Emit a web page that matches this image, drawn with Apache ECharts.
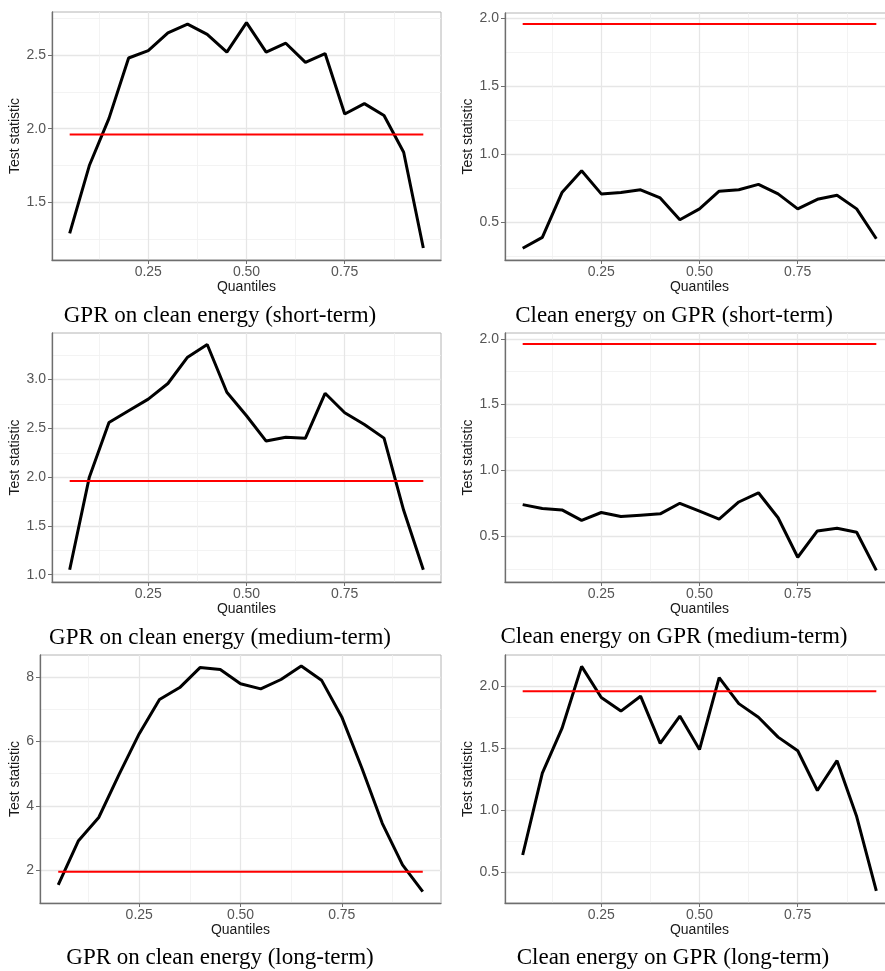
<!DOCTYPE html>
<html><head><meta charset="utf-8">
<script src="https://cdn.jsdelivr.net/npm/echarts@6/dist/echarts.min.js"></script>
<style>html,body{margin:0;padding:0;background:#fff}#c{width:885px;height:971px}</style>
</head><body><div id="c"></div>
<script>
// ---- data ----
const quantiles = [0.05,0.10,0.15,0.20,0.25,0.30,0.35,0.40,0.45,0.50,0.55,0.60,0.65,0.70,0.75,0.80,0.85,0.90,0.95];
const gprOnCleanShort  = [1.29,1.75,2.07,2.48,2.53,2.65,2.71,2.64,2.52,2.72,2.52,2.58,2.45,2.51,2.10,2.17,2.09,1.84,1.19];
const cleanOnGprShort  = [0.31,0.39,0.72,0.88,0.71,0.72,0.74,0.68,0.52,0.60,0.73,0.74,0.78,0.71,0.60,0.67,0.70,0.60,0.38];
const gprOnCleanMedium = [1.05,2.00,2.56,2.68,2.80,2.96,3.23,3.36,2.87,2.63,2.37,2.41,2.40,2.86,2.66,2.54,2.40,1.66,1.05];
const cleanOnGprMedium = [0.74,0.71,0.70,0.62,0.68,0.65,0.66,0.67,0.75,0.69,0.63,0.76,0.83,0.64,0.34,0.54,0.56,0.53,0.24];
const gprOnCleanLong   = [1.55,2.92,3.64,4.97,6.24,7.30,7.67,8.29,8.23,7.79,7.63,7.92,8.34,7.90,6.76,5.16,3.46,2.17,1.34];
const cleanOnGprLong   = [0.64,1.30,1.66,2.16,1.91,1.80,1.92,1.54,1.76,1.49,2.07,1.86,1.75,1.59,1.48,1.16,1.40,0.95,0.35];
const criticalValue = 1.96;

const xMajorTicks = [0.25,0.50,0.75];
const xMinorTicks = [0.125,0.375,0.625,0.875];
const xRange = [0.005,0.995];

const yTicksShortL  = {major:[1.5,2.0,2.5], minor:[1.25,1.75,2.25,2.75], range:[1.109,2.792]};
const yTicksShortR  = {major:[0.5,1.0,1.5,2.0], minor:[0.25,0.75,1.25,1.75], range:[0.224,2.040]};
const yTicksMediumL = {major:[1.0,1.5,2.0,2.5,3.0], minor:[1.25,1.75,2.25,2.75,3.25], range:[0.925,3.478]};
const yTicksMediumR = {major:[0.5,1.0,1.5,2.0], minor:[0.25,0.75,1.25,1.75], range:[0.152,2.044]};
const yTicksLongL   = {major:[2,4,6,8], minor:[1,3,5,7], range:[0.988,8.68]};
const yTicksLongR   = {major:[0.5,1.0,1.5,2.0], minor:[0.75,1.25,1.75], range:[0.253,2.252]};

const captions = [
  'GPR on clean energy (short-term)', 'Clean energy on GPR (short-term)',
  'GPR on clean energy (medium-term)', 'Clean energy on GPR (medium-term)',
  'GPR on clean energy (long-term)', 'Clean energy on GPR (long-term)'
];
const seriesValues = [gprOnCleanShort, cleanOnGprShort, gprOnCleanMedium, cleanOnGprMedium, gprOnCleanLong, cleanOnGprLong];
const yTickSets = [yTicksShortL, yTicksShortR, yTicksMediumL, yTicksMediumR, yTicksLongL, yTicksLongR];
const yDecimals = [1,1,1,1,0,1];

// ---- layout ----
const layout = [
  {left:52,  top:12,  width:389, height:248, nameGap:28, capX:220, capY:316},
  {left:505, top:13,  width:389, height:247, nameGap:27, capX:674, capY:316},
  {left:52,  top:333, width:389, height:249, nameGap:28, capX:220, capY:638},
  {left:505, top:333, width:389, height:249, nameGap:27, capX:674, capY:637},
  {left:40,  top:655, width:401, height:248, nameGap:16, capX:220, capY:958},
  {left:505, top:655, width:389, height:248, nameGap:27, capX:673, capY:958}
];

const sans = 'Liberation Sans, Arial, sans-serif';
const grids = [], xAxes = [], yAxes = [], series = [], graphics = [];

layout.forEach((L, i) => {
  grids.push({left:L.left, top:L.top, width:L.width, height:L.height, show:true,
              outerBoundsMode:'none', containLabel:false,
              borderColor:'#b4b4b4', borderWidth:1, backgroundColor:'#fff'});
  const ys = yTickSets[i];
  xAxes.push({type:'value', gridIndex:i, min:xRange[0], max:xRange[1],
    name:'Quantiles', nameLocation:'middle', nameGap:20,
    nameTextStyle:{fontFamily:sans, fontSize:14, color:'#1a1a1a'},
    axisLine:{show:true, onZero:false, lineStyle:{color:'#6e6e6e', width:1.3}},
    axisTick:{show:true, length:4, lineStyle:{color:'#6e6e6e'}, customValues:xMajorTicks},
    axisLabel:{show:true, margin:5, color:'#555', fontFamily:sans, fontSize:14,
               customValues:xMajorTicks, formatter:v=>v.toFixed(2)},
    splitLine:{show:true, lineStyle:{color:'#e6e6e6', width:1.3}}
  });
  xAxes.push({type:'value', gridIndex:i, min:xRange[0], max:xRange[1], position:'top',
    axisLine:{show:false}, axisLabel:{show:false, customValues:xMinorTicks},
    axisTick:{show:false, customValues:xMinorTicks},
    splitLine:{show:true, lineStyle:{color:'#f0f0f0', width:0.8}}
  });
  yAxes.push({type:'value', gridIndex:i, min:ys.range[0], max:ys.range[1],
    name:'Test statistic', nameLocation:'middle', nameGap:L.nameGap,
    nameTextStyle:{fontFamily:sans, fontSize:14, color:'#1a1a1a'},
    axisLine:{show:true, onZero:false, lineStyle:{color:'#6e6e6e', width:1.3}},
    axisTick:{show:true, length:4, lineStyle:{color:'#6e6e6e'}, customValues:ys.major},
    axisLabel:{show:true, margin:6, color:'#555', fontFamily:sans, fontSize:14,
               customValues:ys.major, formatter:v=>v.toFixed(yDecimals[i])},
    splitLine:{show:true, lineStyle:{color:'#e6e6e6', width:1.3}}
  });
  yAxes.push({type:'value', gridIndex:i, min:ys.range[0], max:ys.range[1], position:'right',
    axisLine:{show:false}, axisLabel:{show:false, customValues:ys.minor},
    axisTick:{show:false, customValues:ys.minor},
    splitLine:{show:true, lineStyle:{color:'#f0f0f0', width:0.8}}
  });
  const vals = seriesValues[i];
  series.push({type:'line', xAxisIndex:2*i, yAxisIndex:2*i, showSymbol:false, silent:true,
    data: quantiles.map((q,k)=>[q, vals[k]]),
    lineStyle:{color:'#000', width:3}, z:3});
  series.push({type:'line', xAxisIndex:2*i, yAxisIndex:2*i, showSymbol:false, silent:true,
    data: [[quantiles[0], criticalValue],[quantiles[quantiles.length-1], criticalValue]],
    lineStyle:{color:'#ff0000', width:2}, z:4});
  graphics.push({type:'text', x:L.capX, y:L.capY, silent:true,
    style:{text:captions[i], fill:'#000', font:'23px "Liberation Serif", "Times New Roman", serif',
           textAlign:'center', textVerticalAlign:'middle'}});
});

const chart = echarts.init(document.getElementById('c'), null, {renderer:'canvas'});
chart.setOption({
  animation:false,
  backgroundColor:'#fff',
  grid:grids, xAxis:xAxes, yAxis:yAxes, series:series, graphic:graphics
});
</script>
</body></html>
